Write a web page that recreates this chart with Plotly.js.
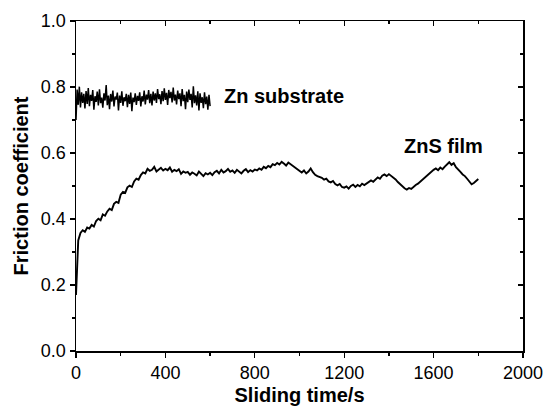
<!DOCTYPE html>
<html>
<head>
<meta charset="utf-8">
<script src="https://cdn.plot.ly/plotly-3.0.1.min.js"></script>
<style>html,body{margin:0;padding:0;background:#fff}#chart{width:547px;height:406px}</style>
</head>
<body>
<div id="chart"></div>
<script>
// Zn substrate: sampled every 5 s from 0 to 600 s
const znStart = 0, znStep = 5;
const znValues = [
  0.70, 0.792, 0.746, 0.801, 0.738, 0.784, 0.752, 0.779, 0.735, 0.788,
  0.749, 0.797, 0.742, 0.776, 0.758, 0.791, 0.731, 0.772, 0.755, 0.786,
  0.744, 0.793, 0.751, 0.768, 0.737, 0.781, 0.759, 0.806, 0.745, 0.774,
  0.733, 0.779, 0.756, 0.789, 0.741, 0.771, 0.762, 0.783, 0.729, 0.774,
  0.752, 0.787, 0.743, 0.769, 0.757, 0.779, 0.739, 0.776, 0.749, 0.783,
  0.727, 0.768, 0.754, 0.781, 0.746, 0.773, 0.758, 0.784, 0.741, 0.772,
  0.756, 0.789, 0.747, 0.777, 0.762, 0.791, 0.751, 0.779, 0.744, 0.786,
  0.759, 0.781, 0.752, 0.794, 0.763, 0.778, 0.748, 0.788, 0.757, 0.796,
  0.761, 0.782, 0.746, 0.791, 0.766, 0.785, 0.753, 0.798, 0.759, 0.777,
  0.747, 0.789, 0.763, 0.781, 0.742, 0.794, 0.757, 0.776, 0.733, 0.786,
  0.754, 0.792, 0.761, 0.779, 0.738, 0.802, 0.751, 0.775, 0.744, 0.787,
  0.729, 0.781, 0.752, 0.769, 0.736, 0.784, 0.748, 0.771, 0.731, 0.776,
  0.742
];

// ZnS film: sampled every 10 s from 0 to 1800 s
const znsStart = 0, znsStep = 10;
const znsValues = [
  0.17, 0.335, 0.358, 0.366, 0.361, 0.374, 0.371, 0.382, 0.377, 0.394,
  0.401, 0.396, 0.414, 0.410, 0.423, 0.431, 0.427, 0.446, 0.452, 0.449,
  0.474, 0.482, 0.479, 0.496, 0.501, 0.497, 0.514, 0.522, 0.519, 0.533,
  0.541, 0.538, 0.552, 0.546, 0.549, 0.558, 0.544, 0.551, 0.555, 0.547,
  0.552, 0.548, 0.556, 0.543, 0.549, 0.545, 0.551, 0.537, 0.544, 0.540,
  0.543, 0.534, 0.541, 0.537, 0.532, 0.544, 0.536, 0.530, 0.539, 0.535,
  0.540, 0.533, 0.542, 0.546, 0.538, 0.549, 0.541, 0.545, 0.552, 0.543,
  0.547, 0.540, 0.549, 0.544, 0.538, 0.546, 0.551, 0.542, 0.548, 0.544,
  0.550, 0.547, 0.553, 0.549, 0.558, 0.554, 0.561, 0.557, 0.566, 0.563,
  0.570, 0.565, 0.573, 0.568, 0.562, 0.571, 0.566, 0.560, 0.555, 0.551,
  0.546, 0.541, 0.547, 0.538, 0.544, 0.553, 0.542, 0.534, 0.530, 0.527,
  0.525, 0.519, 0.522, 0.514, 0.511, 0.515, 0.506, 0.502, 0.506, 0.497,
  0.495, 0.499, 0.492, 0.500, 0.504, 0.497, 0.503, 0.499, 0.507, 0.503,
  0.508, 0.511, 0.517, 0.513, 0.521, 0.526, 0.522, 0.531, 0.535, 0.530,
  0.536, 0.531, 0.527, 0.520, 0.512, 0.506, 0.497, 0.493, 0.489, 0.494,
  0.491, 0.498, 0.503, 0.507, 0.513, 0.520, 0.526, 0.532, 0.536, 0.544,
  0.549, 0.553, 0.548, 0.556, 0.551, 0.559, 0.567, 0.572, 0.564, 0.569,
  0.557, 0.551, 0.543, 0.535, 0.530, 0.522, 0.513, 0.505, 0.509, 0.514,
  0.521
];

const xTickVals = [0, 400, 800, 1200, 1600, 2000];
const yTickVals = [0.0, 0.2, 0.4, 0.6, 0.8, 1.0];
const labels = [
  {text: 'Zn substrate', x: 655, y: 0.772},
  {text: 'ZnS film', x: 1460, y: 0.62}
];
const xTitle = 'Sliding time/s';
const yTitle = 'Friction coefficient';

const znX = znValues.map((_, i) => znStart + i * znStep);
const znsX = znsValues.map((_, i) => znsStart + i * znsStep);

const font = 'Liberation Sans, Arial, sans-serif';
const traces = [
  {x: znX, y: znValues, type: 'scatter', mode: 'lines', line: {color: '#000', width: 1.5}, hoverinfo: 'skip'},
  {x: znsX, y: znsValues, type: 'scatter', mode: 'lines', line: {color: '#000', width: 1.9}, hoverinfo: 'skip'},
  {x: [], y: [], yaxis: 'y2', xaxis: 'x2', type: 'scatter', showlegend: false}
];

const layout = {
  width: 547, height: 406,
  margin: {l: 76, r: 24, t: 21, b: 55},
  paper_bgcolor: '#fff', plot_bgcolor: '#fff',
  showlegend: false,
  font: {family: font, size: 18, color: '#000'},
  xaxis: {
    range: [0, 2000], tickvals: xTickVals, ticks: 'outside', ticklen: 5, tickwidth: 1.3, tickcolor: '#000',
    minor: {dtick: 200, ticks: 'outside', ticklen: 3, tickwidth: 1.3, tickcolor: '#000'},
    showline: true, linewidth: 1.5, linecolor: '#000', mirror: true,
    showgrid: false, zeroline: false,
    title: {text: '<b>' + xTitle + '</b>', font: {family: font, size: 20}, standoff: 14},
    tickfont: {family: font, size: 18}
  },
  yaxis: {
    range: [0, 1], tickvals: yTickVals, tickformat: '.1f', ticks: 'outside', ticklen: 5, tickwidth: 1.3, tickcolor: '#000',
    minor: {dtick: 0.1, ticks: 'outside', ticklen: 3, tickwidth: 1.3, tickcolor: '#000'},
    showline: true, linewidth: 1.5, linecolor: '#000', mirror: true,
    showgrid: false, zeroline: false,
    title: {text: '<b>' + yTitle + '</b>', font: {family: font, size: 20}, standoff: 7},
    tickfont: {family: font, size: 18}
  },
  xaxis2: {overlaying: 'x', side: 'top', range: [0, 2000], tickvals: xTickVals, ticks: 'inside', ticklen: 5, tickwidth: 1.3, tickcolor: '#000',
    minor: {dtick: 200, ticks: 'inside', ticklen: 3, tickwidth: 1.3, tickcolor: '#000'},
    showticklabels: false, showgrid: false, zeroline: false, showline: false},
  yaxis2: {overlaying: 'y', side: 'right', range: [0, 1], tickvals: yTickVals, ticks: 'inside', ticklen: 5, tickwidth: 1.3, tickcolor: '#000',
    minor: {dtick: 0.1, ticks: 'inside', ticklen: 3, tickwidth: 1.3, tickcolor: '#000'},
    showticklabels: false, showgrid: false, zeroline: false, showline: false},
  annotations: labels.map(l => ({
    text: '<b>' + l.text + '</b>', x: l.x, y: l.y, xref: 'x', yref: 'y',
    xanchor: 'left', yanchor: 'middle', showarrow: false,
    font: {family: font, size: 20, color: '#000'}
  }))
};

Plotly.newPlot('chart', traces, layout, {staticPlot: true, displayModeBar: false});
</script>
</body>
</html>
